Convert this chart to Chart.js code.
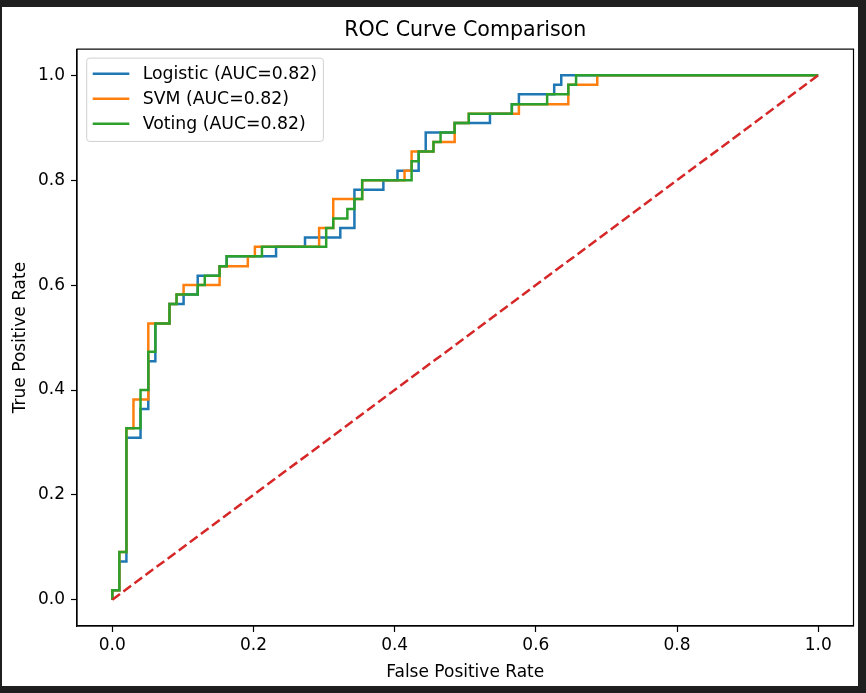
<!DOCTYPE html>
<html>
<head>
<meta charset="utf-8">
<script src="https://cdn.jsdelivr.net/npm/chart.js@4.4.1/dist/chart.umd.min.js"></script>
<style>
  html, body { margin: 0; padding: 0; background: #1f1f1f; }
  #panel { position: absolute; left: 2px; top: 7px; width: 856px; height: 679px; background: #fff; }
  canvas { display: block; }
</style>
</head>
<body>
<div id="panel"><canvas id="roc" width="856" height="679"></canvas></div>
<script>
// ROC points (fpr / tpr corners)
const fprLogistic = [0, 0, 0.010, 0.010, 0.020, 0.020, 0.040, 0.040, 0.051, 0.051, 0.061, 0.061, 0.081, 0.081, 0.101, 0.101, 0.121, 0.121, 0.152, 0.152, 0.162, 0.162, 0.232, 0.232, 0.273, 0.273, 0.323, 0.323, 0.343, 0.343, 0.384, 0.384, 0.404, 0.404, 0.434, 0.434, 0.444, 0.444, 0.485, 0.485, 0.535, 0.535, 0.566, 0.566, 0.576, 0.576, 0.626, 0.626, 0.636, 0.636, 1.0];
const tprLogistic = [0, 0.018, 0.018, 0.073, 0.073, 0.309, 0.309, 0.364, 0.364, 0.455, 0.455, 0.527, 0.527, 0.564, 0.564, 0.582, 0.582, 0.618, 0.618, 0.636, 0.636, 0.655, 0.655, 0.673, 0.673, 0.691, 0.691, 0.709, 0.709, 0.782, 0.782, 0.800, 0.800, 0.818, 0.818, 0.855, 0.855, 0.891, 0.891, 0.909, 0.909, 0.927, 0.927, 0.945, 0.945, 0.964, 0.964, 0.982, 0.982, 1.0, 1.0];

const fprSVM = [0, 0, 0.010, 0.010, 0.020, 0.020, 0.030, 0.030, 0.051, 0.051, 0.081, 0.081, 0.091, 0.091, 0.101, 0.101, 0.152, 0.152, 0.192, 0.192, 0.202, 0.202, 0.293, 0.293, 0.313, 0.313, 0.354, 0.354, 0.414, 0.414, 0.424, 0.424, 0.455, 0.455, 0.485, 0.485, 0.505, 0.505, 0.576, 0.576, 0.646, 0.646, 0.687, 0.687, 1.0];
const tprSVM = [0, 0.018, 0.018, 0.091, 0.091, 0.327, 0.327, 0.382, 0.382, 0.527, 0.527, 0.564, 0.564, 0.582, 0.582, 0.600, 0.600, 0.636, 0.636, 0.655, 0.655, 0.673, 0.673, 0.709, 0.709, 0.764, 0.764, 0.800, 0.800, 0.818, 0.818, 0.855, 0.855, 0.873, 0.873, 0.909, 0.909, 0.927, 0.927, 0.945, 0.945, 0.982, 0.982, 1.0, 1.0];

const fprVoting = [0, 0, 0.010, 0.010, 0.020, 0.020, 0.040, 0.040, 0.051, 0.051, 0.061, 0.061, 0.081, 0.081, 0.091, 0.091, 0.121, 0.121, 0.131, 0.131, 0.152, 0.152, 0.162, 0.162, 0.212, 0.212, 0.303, 0.303, 0.313, 0.313, 0.333, 0.333, 0.343, 0.343, 0.354, 0.354, 0.424, 0.424, 0.434, 0.434, 0.455, 0.455, 0.465, 0.465, 0.485, 0.485, 0.505, 0.505, 0.566, 0.566, 0.616, 0.616, 0.646, 0.646, 0.657, 0.657, 1.0];
const tprVoting = [0, 0.018, 0.018, 0.091, 0.091, 0.327, 0.327, 0.400, 0.400, 0.473, 0.473, 0.527, 0.527, 0.564, 0.564, 0.582, 0.582, 0.600, 0.600, 0.618, 0.618, 0.636, 0.636, 0.655, 0.655, 0.673, 0.673, 0.709, 0.709, 0.727, 0.727, 0.745, 0.745, 0.764, 0.764, 0.800, 0.800, 0.836, 0.836, 0.855, 0.855, 0.873, 0.873, 0.891, 0.891, 0.909, 0.909, 0.927, 0.927, 0.945, 0.945, 0.964, 0.964, 0.982, 0.982, 1.0, 1.0];

const chanceX = [0, 1];
const chanceY = [0, 1];

const seriesNames = ["Logistic (AUC=0.82)", "SVM (AUC=0.82)", "Voting (AUC=0.82)"];
const xTicks = [0.0, 0.2, 0.4, 0.6, 0.8, 1.0];
const yTicks = [0.0, 0.2, 0.4, 0.6, 0.8, 1.0];

const FONT = "'DejaVu Sans', sans-serif";
const toPoints = (xs, ys) => xs.map((x, i) => ({ x: x, y: ys[i] }));

// kotak frame penuh + legend ala matplotlib
const frameAndLegend = {
  id: "frameAndLegend",
  afterDatasetsDraw(chart) {
    const { ctx, chartArea: a } = chart;
    ctx.save();
    ctx.strokeStyle = "#000";
    ctx.lineWidth = 1.2;
    ctx.strokeRect(a.left, a.top, a.right - a.left, a.bottom - a.top);

    // legend
    ctx.font = "17.3px " + FONT;
    const items = chart.data.datasets.filter((d) => d.inLegend);
    const textW = Math.max(...items.map((d) => ctx.measureText(d.label).width));
    const bx = a.left + 9.7, by = a.top + 9;
    const bw = 56 + textW + 6.5, bh = 83.3;
    ctx.beginPath();
    ctx.roundRect(bx, by, bw, bh, 3);
    ctx.fillStyle = "rgba(255,255,255,0.8)";
    ctx.fill();
    ctx.strokeStyle = "#d0d0d0";
    ctx.lineWidth = 1;
    ctx.stroke();
    items.forEach((d, i) => {
      const cy = by + 15.7 + i * 25;
      ctx.beginPath();
      ctx.moveTo(bx + 6, cy);
      ctx.lineTo(bx + 42.6, cy);
      ctx.strokeStyle = d.borderColor;
      ctx.lineWidth = 2.5;
      ctx.stroke();
      ctx.fillStyle = "#000";
      ctx.textBaseline = "middle";
      ctx.fillText(d.label, bx + 56, cy + 1);
    });
    ctx.restore();
  },
};

const ctx = document.getElementById("roc").getContext("2d");
new Chart(ctx, {
  type: "scatter",
  data: {
    datasets: [
      { label: seriesNames[0], data: toPoints(fprLogistic, tprLogistic), borderColor: "#1f77b4", order: 4, inLegend: true },
      { label: seriesNames[1], data: toPoints(fprSVM, tprSVM), borderColor: "#ff7f0e", order: 3, inLegend: true },
      { label: seriesNames[2], data: toPoints(fprVoting, tprVoting), borderColor: "#2ca02c", order: 2, inLegend: true },
      { label: "chance", data: toPoints(chanceX, chanceY), borderColor: "#d62728", borderDash: [9.6, 4.2], order: 1, inLegend: false },
    ].map((d) => Object.assign({ showLine: true, borderWidth: 2.5, pointRadius: 0, tension: 0, fill: false }, d)),
  },
  options: {
    responsive: false,
    animation: false,
    devicePixelRatio: 1,
    layout: { padding: { left: 0, right: 4.5, top: 0, bottom: 0 } },
    plugins: {
      legend: { display: false },
      tooltip: { enabled: false },
      title: {
        display: true,
        text: "ROC Curve Comparison",
        fullSize: false,
        color: "#000",
        font: { family: FONT, size: 20.6, weight: "normal" },
        padding: { top: 11, bottom: 6.4 },
      },
    },
    scales: {
      x: {
        type: "linear",
        min: -0.05,
        max: 1.05,
        afterBuildTicks: (s) => { s.ticks = xTicks.map((v) => ({ value: v })); },
        afterFit: (s) => { s.height = 60; },
        ticks: { color: "#000", font: { family: FONT, size: 17 }, padding: 3, maxRotation: 0, callback: (v) => v.toFixed(1) },
        grid: { drawOnChartArea: false, drawTicks: true, tickLength: 6, tickWidth: 1.2, color: "#000" },
        border: { display: true, color: "#000", width: 1.2 },
        title: { display: true, text: "False Positive Rate", color: "#000", font: { family: FONT, size: 17 }, padding: { top: 0, bottom: 3.5 } },
      },
      y: {
        type: "linear",
        min: -0.05,
        max: 1.05,
        afterBuildTicks: (s) => { s.ticks = yTicks.map((v) => ({ value: v })); },
        afterFit: (s) => { s.width = 75; },
        ticks: { color: "#000", font: { family: FONT, size: 17 }, padding: 6, callback: (v) => v.toFixed(1) },
        grid: { drawOnChartArea: false, drawTicks: true, tickLength: 6, tickWidth: 1.2, color: "#000" },
        border: { display: true, color: "#000", width: 1.2 },
        title: { display: true, text: "True Positive Rate", color: "#000", font: { family: FONT, size: 17 }, padding: { top: 8, bottom: 0 } },
      },
    },
  },
  plugins: [frameAndLegend],
});
</script>
</body>
</html>
